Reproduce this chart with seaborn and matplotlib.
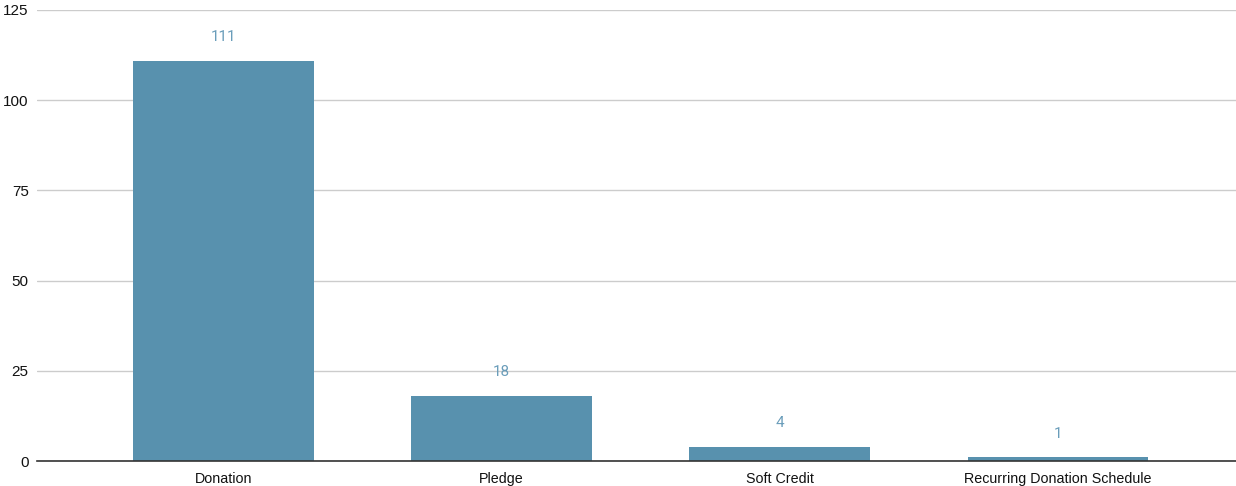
import matplotlib
matplotlib.use("Agg")
import matplotlib.pyplot as plt
import seaborn as sns
import pandas as pd

categories = ["Donation", "Pledge", "Soft Credit", "Recurring Donation Schedule"]
counts = [111, 18, 4, 1]
yticks = [0, 25, 50, 75, 100, 125]

df = pd.DataFrame({"type": categories, "count": counts})

sns.set_style("white")
plt.rcParams["font.family"] = ["Liberation Sans", "DejaVu Sans"]

fig = plt.figure(figsize=(12.36, 4.86), dpi=100)
ax = fig.add_axes([37 / 1236, 25 / 486, 1 - 37 / 1236, 451 / 486])

sns.barplot(data=df, x="type", y="count", color="#5891ae", saturation=1,
            width=0.65, ax=ax, zorder=3, linewidth=0)

ax.bar_label(ax.containers[0], padding=12, color="#6a9dba", fontsize=11,
             family=["Roboto", "DejaVu Sans"])

ax.set_ylim(0, 125)
ax.set_xlim(-0.67, 3.64)
ax.set_yticks(yticks)
ax.yaxis.grid(True, color="#cccccc", linewidth=1, zorder=0)
ax.set_axisbelow(True)
ax.tick_params(axis="both", length=0, colors="#111111")
ax.tick_params(axis="x", pad=8, labelsize=10.3)
ax.tick_params(axis="y", pad=6, labelsize=11)
ax.set_xlabel("")
ax.set_ylabel("")
for s in ["top", "right", "left"]:
    ax.spines[s].set_visible(False)
ax.spines["bottom"].set_color("#333333")
ax.spines["bottom"].set_linewidth(1.2)
ax.spines["bottom"].set_zorder(4)

fig.savefig("out.png", dpi=100)
